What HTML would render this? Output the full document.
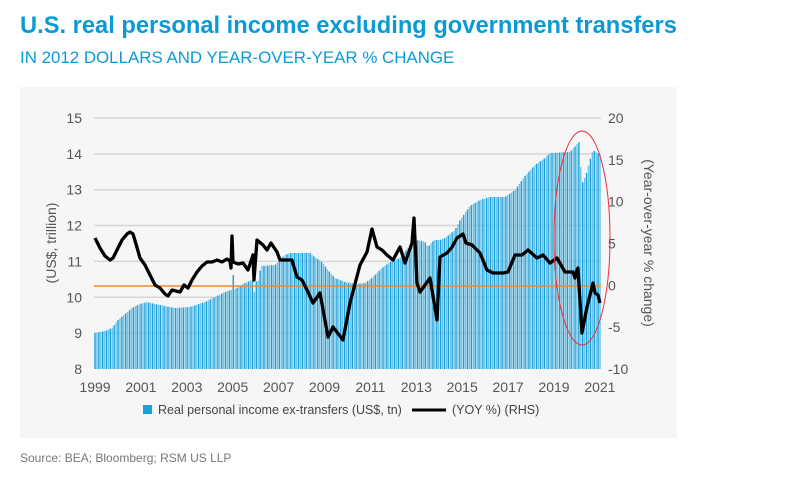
<!DOCTYPE html>
<html><head><meta charset="utf-8"><style>
body{margin:0;background:#fff;width:786px;height:485px;overflow:hidden;font-family:"Liberation Sans",sans-serif}
</style></head><body>
<svg id="s" width="786" height="485" xmlns="http://www.w3.org/2000/svg" font-family="Liberation Sans, sans-serif">
<text x="20" y="33" font-size="23.7" font-weight="bold" fill="#0b9ad6">U.S. real personal income excluding government transfers</text>
<text x="20" y="63" font-size="16.9" fill="#0b9ad6">IN 2012 DOLLARS AND YEAR-OVER-YEAR % CHANGE</text>
<rect x="20" y="87" width="657" height="351" fill="#f6f6f6"/>
<g id="grid" stroke="#d6d6d6" stroke-width="1.5"></g>
<g id="bars"></g>
<line x1="94" x2="601" y1="286" y2="286" stroke="#f08a30" stroke-width="1.5"/>
<path id="ln" fill="none" stroke="#000" stroke-width="3.3" stroke-linejoin="round"/>
<ellipse cx="582" cy="238" rx="28" ry="107" fill="none" stroke="#e8313f" stroke-width="1"/>
<g id="lab" font-size="14" fill="#555"></g>
<text transform="translate(56,243) rotate(-90)" text-anchor="middle" font-size="14" fill="#555">(US$, trillion)</text>
<text transform="translate(644,243) rotate(90)" text-anchor="middle" font-size="14" fill="#555">(Year-over-year % change)</text>
<rect x="143" y="405" width="9" height="9" fill="#1aa0dc"/>
<text x="158" y="414" font-size="12.5" fill="#444">Real personal income ex-transfers (US$, tn)</text>
<line x1="412" x2="446" y1="410" y2="410" stroke="#000" stroke-width="3"/>
<text x="452" y="414" font-size="12.5" fill="#444">(YOY %) (RHS)</text>
<text x="20" y="462" font-size="12" fill="#777">Source: BEA; Bloomberg; RSM US LLP</text>
</svg>
<script>
var ns="http://www.w3.org/2000/svg";
function el(p,t,a,txt){var e=document.createElementNS(ns,t);for(var k in a)e.setAttribute(k,a[k]);if(txt!=null)e.textContent=txt;document.getElementById(p).appendChild(e);}
for(var v=8;v<=15;v++){var y=369-(v-8)*35.86;if(v>8)el("grid","line",{x1:94,x2:601,y1:y,y2:y});
el("lab","text",{x:82,y:y+5,"text-anchor":"end"},v);}
for(var r=-10;r<=20;r+=5){var y=369-(r+10)*8.37;el("lab","text",{x:608,y:y+5},r);}
for(var yr=1999;yr<=2021;yr+=2){el("lab","text",{x:95+(yr-1999)*22.95,y:392,"text-anchor":"middle"},yr);}
var B=[[95,333],[105,331],[112,328],[118,320],[125,314],[132,308],[140,304],[147,302],[155,304],[165,306],[175,308],[190,307],[205,302],[213,298],[225,292],[231,290],[235,289],[245,283],[252,280],[258,282],[261,266],[275,265],[285,255],[290,253],[310,253],[316,258],[322,262],[328,270],[335,278],[345,282],[355,284],[365,283],[372,278],[382,268],[390,262],[400,258],[410,245],[418,240],[425,242],[428,247],[434,240],[440,240],[445,238],[455,230],[460,220],[470,206],[480,200],[490,197],[505,197],[515,190],[525,176],[535,165],[545,158],[550,153],[570,152],[579,142],[582,184],[586,175],[590,160],[593,150],[600,155]];
function interp(P,x){for(var i=0;i<P.length-1;i++){if(x<=P[i+1][0]){var t=(x-P[i][0])/(P[i+1][0]-P[i][0]);return P[i][1]+t*(P[i+1][1]-P[i][1]);}}return P[P.length-1][1];}
var n=264;
for(var i=0;i<n;i++){var x=95+i*(505/(n-1));var y=interp(B,x);if(Math.abs(x-233)<1)y=275;if(Math.abs(x-254.5)<1)y=292;
el("bars","rect",{x:x-0.7,y:y,width:1.4,height:369-y,fill:i%2?"#6cc3e8":"#169fdb"});}
var L=[[95,238],[100,248],[105,256],[110,260],[113,258],[118,248],[122,240],[127,234],[130,232],[133,234],[136,244],[140,258],[145,265],[150,275],[155,285],[160,288],[165,294],[168,296],[172,290],[176,291],[180,292],[184,285],[188,288],[192,280],[197,272],[202,266],[207,262],[212,262],[217,260],[222,262],[227,259],[230,261],[231,268],[232,236],[233,262],[238,264],[243,263],[248,270],[253,255],[254,280],[257,240],[263,245],[267,250],[271,243],[277,252],[280,260],[292,260],[297,277],[302,280],[307,290],[313,303],[320,293],[328,337],[333,327],[343,340],[350,303],[360,265],[367,252],[372,229],[377,247],[382,250],[387,255],[393,260],[400,247],[405,263],[412,243],[414,218],[417,283],[420,292],[430,278],[437,320],[440,257],[447,253],[452,247],[457,238],[463,234],[466,243],[472,245],[480,253],[487,270],[493,273],[503,273],[508,272],[515,255],[522,255],[528,250],[537,258],[543,255],[550,263],[557,258],[565,272],[573,272],[575,278],[577,270],[578,268],[582,333],[587,307],[593,283],[595,293],[598,295],[600,303]];
document.getElementById("ln").setAttribute("d","M"+L.map(function(p){return p[0]+","+p[1]}).join(" L"));
</script>
</body></html>
